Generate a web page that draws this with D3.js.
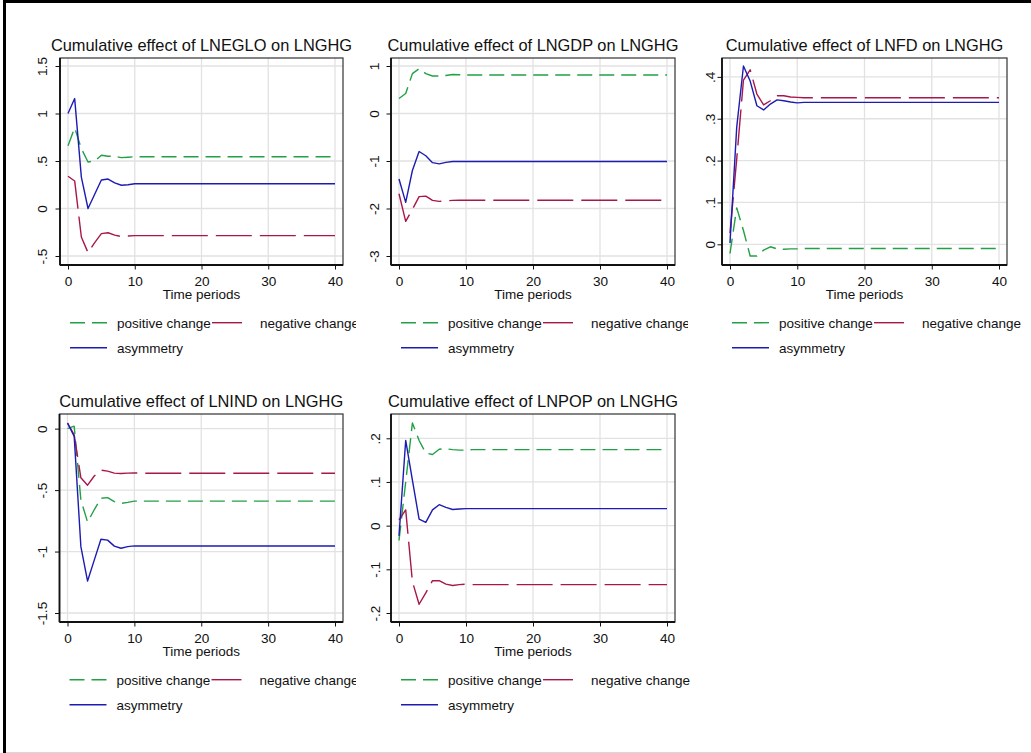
<!DOCTYPE html>
<html><head><meta charset="utf-8">
<script src="https://cdn.jsdelivr.net/npm/d3@7"></script>
<style>
body{margin:0;background:#fff}
svg{display:block}
text{font-family:"Liberation Sans",Arial,Helvetica,sans-serif;fill:#111}
</style>
</head><body>
<svg id="c" width="1031" height="753"></svg>
<script>
// ---------------- DATA ----------------
const periods = [0,1,2,3,4,5,6,7,8,9,10,11,12,13,14,15,16,17,18,19,20,21,22,23,24,25,26,27,28,29,30,31,32,33,34,35,36,37,38,39,40];
const xTicks = [0,10,20,30,40];
const seriesNames = ["positive change","negative change","asymmetry"];
const titles = [
  "Cumulative effect of LNEGLO on LNGHG",
  "Cumulative effect of LNGDP on LNGHG",
  "Cumulative effect of LNFD on LNGHG",
  "Cumulative effect of LNIND on LNGHG",
  "Cumulative effect of LNPOP on LNGHG"
];

// LNEGLO
const egloPos = [0.66,0.85,0.63,0.49,0.50,0.56,0.55,0.55,0.535,0.54,0.545,
  0.545,0.545,0.545,0.545,0.545,0.545,0.545,0.545,0.545,0.545,
  0.545,0.545,0.545,0.545,0.545,0.545,0.545,0.545,0.545,0.545,
  0.545,0.545,0.545,0.545,0.545,0.545,0.545,0.545,0.545,0.545];
const egloNeg = [0.34,0.29,-0.30,-0.465,-0.36,-0.265,-0.255,-0.28,-0.295,-0.29,-0.285,
  -0.285,-0.285,-0.285,-0.285,-0.285,-0.285,-0.285,-0.285,-0.285,-0.285,
  -0.285,-0.285,-0.285,-0.285,-0.285,-0.285,-0.285,-0.285,-0.285,-0.285,
  -0.285,-0.285,-0.285,-0.285,-0.285,-0.285,-0.285,-0.285,-0.285,-0.285];
const egloAsym = [1.0,1.157,0.33,0.0,0.15,0.30,0.31,0.27,0.245,0.25,0.26,
  0.26,0.26,0.26,0.26,0.26,0.26,0.26,0.26,0.26,0.26,
  0.26,0.26,0.26,0.26,0.26,0.26,0.26,0.26,0.26,0.26,
  0.26,0.26,0.26,0.26,0.26,0.26,0.26,0.26,0.26,0.26];
const egloTicks = [-0.5,0,0.5,1,1.5];
const egloLabels = ["-.5","0",".5","1","1.5"];

// LNGDP
const gdpPos = [0.315,0.42,0.84,0.944,0.84,0.79,0.79,0.80,0.82,0.815,0.81,
  0.81,0.81,0.81,0.81,0.81,0.81,0.81,0.81,0.81,0.81,
  0.81,0.81,0.81,0.81,0.81,0.81,0.81,0.81,0.81,0.81,
  0.81,0.81,0.81,0.81,0.81,0.81,0.81,0.81,0.81,0.81];
const gdpNeg = [-1.69,-2.27,-2.02,-1.75,-1.74,-1.83,-1.85,-1.84,-1.83,-1.825,-1.825,
  -1.825,-1.825,-1.825,-1.825,-1.825,-1.825,-1.825,-1.825,-1.825,-1.825,
  -1.825,-1.825,-1.825,-1.825,-1.825,-1.825,-1.825,-1.825,-1.825,-1.825,
  -1.825,-1.825,-1.825,-1.825,-1.825,-1.825,-1.825,-1.825,-1.825,-1.825];
const gdpAsym = [-1.38,-1.87,-1.20,-0.80,-0.89,-1.035,-1.06,-1.03,-1.01,-1.01,-1.01,
  -1.01,-1.01,-1.01,-1.01,-1.01,-1.01,-1.01,-1.01,-1.01,-1.01,
  -1.01,-1.01,-1.01,-1.01,-1.01,-1.01,-1.01,-1.01,-1.01,-1.01,
  -1.01,-1.01,-1.01,-1.01,-1.01,-1.01,-1.01,-1.01,-1.01,-1.01];
const gdpTicks = [-3,-2,-1,0,1];
const gdpLabels = ["-3","-2","-1","0","1"];

// LNFD
const fdPos = [-0.022,0.087,0.033,-0.028,-0.028,-0.014,-0.006,-0.011,-0.012,-0.011,-0.011,
  -0.01,-0.01,-0.01,-0.01,-0.01,-0.01,-0.01,-0.01,-0.01,-0.01,
  -0.01,-0.01,-0.01,-0.01,-0.01,-0.01,-0.01,-0.01,-0.01,-0.01,
  -0.01,-0.01,-0.01,-0.01,-0.01,-0.01,-0.01,-0.01,-0.01,-0.01];
const fdNeg = [0.027,0.204,0.392,0.417,0.359,0.333,0.343,0.355,0.355,0.352,0.351,
  0.35,0.35,0.35,0.35,0.35,0.35,0.35,0.35,0.35,0.35,
  0.35,0.35,0.35,0.35,0.35,0.35,0.35,0.35,0.35,0.35,
  0.35,0.35,0.35,0.35,0.35,0.35,0.35,0.35,0.35,0.35];
const fdAsym = [0.003,0.28,0.426,0.39,0.331,0.321,0.335,0.345,0.343,0.34,0.338,
  0.339,0.339,0.339,0.339,0.339,0.339,0.339,0.339,0.339,0.339,
  0.339,0.339,0.339,0.339,0.339,0.339,0.339,0.339,0.339,0.339,
  0.339,0.339,0.339,0.339,0.339,0.339,0.339,0.339,0.339,0.339];
const fdTicks = [0,0.1,0.2,0.3,0.4];
const fdLabels = ["0",".1",".2",".3",".4"];

// LNIND
const indPos = [0.0,0.02,-0.58,-0.76,-0.66,-0.567,-0.561,-0.594,-0.608,-0.60,-0.59,
  -0.59,-0.59,-0.59,-0.59,-0.59,-0.59,-0.59,-0.59,-0.59,-0.59,
  -0.59,-0.59,-0.59,-0.59,-0.59,-0.59,-0.59,-0.59,-0.59,-0.59,
  -0.59,-0.59,-0.59,-0.59,-0.59,-0.59,-0.59,-0.59,-0.59,-0.59];
const indNeg = [0.046,-0.05,-0.40,-0.46,-0.385,-0.338,-0.346,-0.362,-0.365,-0.362,-0.36,
  -0.363,-0.363,-0.363,-0.363,-0.363,-0.363,-0.363,-0.363,-0.363,-0.363,
  -0.363,-0.363,-0.363,-0.363,-0.363,-0.363,-0.363,-0.363,-0.363,-0.363,
  -0.363,-0.363,-0.363,-0.363,-0.363,-0.363,-0.363,-0.363,-0.363,-0.363];
const indAsym = [0.046,-0.063,-0.96,-1.24,-1.07,-0.90,-0.907,-0.956,-0.973,-0.96,-0.954,
  -0.955,-0.955,-0.955,-0.955,-0.955,-0.955,-0.955,-0.955,-0.955,-0.955,
  -0.955,-0.955,-0.955,-0.955,-0.955,-0.955,-0.955,-0.955,-0.955,-0.955,
  -0.955,-0.955,-0.955,-0.955,-0.955,-0.955,-0.955,-0.955,-0.955,-0.955];
const indTicks = [-1.5,-1,-0.5,0];
const indLabels = ["-1.5","-1","-.5","0"];

// LNPOP
const popPos = [-0.034,0.10,0.235,0.195,0.166,0.163,0.175,0.176,0.174,0.173,0.173,
  0.174,0.174,0.174,0.174,0.174,0.174,0.174,0.174,0.174,0.174,
  0.174,0.174,0.174,0.174,0.174,0.174,0.174,0.174,0.174,0.174,
  0.174,0.174,0.174,0.174,0.174,0.174,0.174,0.174,0.174,0.174];
const popNeg = [0.013,0.036,-0.128,-0.18,-0.154,-0.126,-0.126,-0.134,-0.137,-0.135,-0.134,
  -0.135,-0.135,-0.135,-0.135,-0.135,-0.135,-0.135,-0.135,-0.135,-0.135,
  -0.135,-0.135,-0.135,-0.135,-0.135,-0.135,-0.135,-0.135,-0.135,-0.135,
  -0.135,-0.135,-0.135,-0.135,-0.135,-0.135,-0.135,-0.135,-0.135,-0.135];
const popAsym = [-0.0235,0.195,0.104,0.015,0.0076,0.036,0.048,0.042,0.037,0.038,0.039,
  0.039,0.039,0.039,0.039,0.039,0.039,0.039,0.039,0.039,0.039,
  0.039,0.039,0.039,0.039,0.039,0.039,0.039,0.039,0.039,0.039,
  0.039,0.039,0.039,0.039,0.039,0.039,0.039,0.039,0.039,0.039];
const popTicks = [-0.2,-0.1,0,0.1,0.2];
const popLabels = ["-.2","-.1","0",".1",".2"];

// -------------- LAYOUT / STYLE --------------
const panels = [
  {title:titles[0], series:[egloPos,egloNeg,egloAsym], ticks:egloTicks, labels:egloLabels},
  {title:titles[1], series:[gdpPos,gdpNeg,gdpAsym], ticks:gdpTicks, labels:gdpLabels},
  {title:titles[2], series:[fdPos,fdNeg,fdAsym], ticks:fdTicks, labels:fdLabels},
  {title:titles[3], series:[indPos,indNeg,indAsym], ticks:indTicks, labels:indLabels},
  {title:titles[4], series:[popPos,popNeg,popAsym], ticks:popTicks, labels:popLabels}
];
const layout = [
  {cell:[6,356,4,372],   fx:[60,343],   fy:[58,265],  yr:[256,66],  lab:18.3},
  {cell:[356,688,4,372], fx:[391,675],  fy:[58,265],  yr:[256,66],  lab:16.5},
  {cell:[688,1031,4,372],fx:[722,1007], fy:[58,265],  yr:[256,66],  lab:11.6},
  {cell:[6,356,372,751], fx:[59.5,343], fy:[414,622], yr:[613,423], lab:17.6},
  {cell:[356,688,372,751],fx:[391,675], fy:[414,622], yr:[613,423], lab:15.7}
];
const styles = [
  {color:"#21a046", dash:"15,7"},
  {color:"#a8174b", dash:"36,8"},
  {color:"#1c1cb2", dash:null}
];

const svg = d3.select("#c");
svg.append("rect").attr("width",1031).attr("height",753).attr("fill","#fff");

panels.forEach((p,i)=>{
  const L = layout[i];
  const g = svg.append("g");
  g.append("rect").attr("x",L.cell[0]).attr("y",L.cell[2])
    .attr("width",L.cell[1]-L.cell[0]).attr("height",L.cell[3]-L.cell[2]).attr("fill","#fff");

  const x = d3.scaleLinear().domain([0,40]).range([L.fx[0]+8, L.fx[1]-8]);
  const allVals = p.series.flat().concat(p.ticks);
  const y = d3.scaleLinear().domain([d3.min(allVals), d3.max(allVals)]).range(L.yr);

  g.selectAll(null).data(xTicks).enter().append("line")
    .attr("x1",d=>x(d)).attr("x2",d=>x(d)).attr("y1",L.fy[0]).attr("y2",L.fy[1])
    .attr("stroke","#e2e2e2").attr("stroke-width",1.3);
  g.selectAll(null).data(p.ticks).enter().append("line")
    .attr("y1",d=>y(d)).attr("y2",d=>y(d)).attr("x1",L.fx[0]).attr("x2",L.fx[1])
    .attr("stroke","#e2e2e2").attr("stroke-width",1.3);

  g.append("rect").attr("x",L.fx[0]).attr("y",L.fy[0])
    .attr("width",L.fx[1]-L.fx[0]).attr("height",L.fy[1]-L.fy[0])
    .attr("fill","none").attr("stroke","#333").attr("stroke-width",1.2);

  const xAxis = d3.axisBottom(x).tickValues(xTicks).tickSize(4.5).tickPadding(4);
  const ax = g.append("g").attr("transform",`translate(0,${L.fy[1]})`).call(xAxis);
  ax.select(".domain").attr("d",`M${L.fx[0]},0H${L.fx[1]}`).attr("stroke","#111").attr("stroke-width",1.8);
  ax.selectAll(".tick line").attr("stroke","#111").attr("stroke-width",1);
  ax.selectAll(".tick text").attr("font-size","13.6px").attr("fill","#111")
    .attr("font-family","Liberation Sans, Arial, sans-serif").attr("dy",null).attr("y",21);

  const yAxis = d3.axisLeft(y).tickValues(p.ticks).tickSize(4.5).tickFormat((d,k)=>p.labels[k]);
  const ay = g.append("g").attr("transform",`translate(${L.fx[0]},0)`).call(yAxis);
  ay.select(".domain").attr("d",`M0,${L.fy[0]}V${L.fy[1]}`).attr("stroke","#111").attr("stroke-width",1.8);
  ay.selectAll(".tick line").attr("stroke","#111").attr("stroke-width",1);
  ay.selectAll(".tick text").attr("font-size","13.6px").attr("fill","#111")
    .attr("font-family","Liberation Sans, Arial, sans-serif")
    .attr("x",null).attr("dy","0.36em").attr("text-anchor","middle")
    .attr("transform",`translate(${-L.lab},0) rotate(-90)`);

  const line = d3.line().x((d,k)=>x(periods[k])).y(d=>y(d));
  p.series.forEach((s,k)=>{
    g.append("path").datum(s).attr("d",line).attr("fill","none")
      .attr("stroke",styles[k].color).attr("stroke-width",1.4)
      .attr("stroke-dasharray",styles[k].dash)
      .attr("stroke-linejoin","round");
  });

  const cx = (L.fx[0]+L.fx[1])/2;
  g.append("text").attr("x",cx).attr("y",L.fy[0]-7.5).attr("text-anchor","middle")
    .attr("font-size","16.4px").text(p.title);
  g.append("text").attr("x",cx).attr("y",L.fy[1]+33.5).attr("text-anchor","middle")
    .attr("font-size","13.5px").text("Time periods");

  const legendItems = [
    {k:0, lx:10, tx:57, row:0},
    {k:1, lx:152, tx:200, row:0, len:30},
    {k:2, lx:10, tx:57, row:1}
  ];
  legendItems.forEach(it=>{
    const ly = L.fy[1] + 57.7 + it.row*25;
    const len = it.len || 37;
    g.append("line").attr("x1",L.fx[0]+it.lx).attr("x2",L.fx[0]+it.lx+len)
      .attr("y1",ly).attr("y2",ly).attr("stroke",styles[it.k].color)
      .attr("stroke-width",1.4).attr("stroke-dasharray",styles[it.k].dash);
    g.append("text").attr("x",L.fx[0]+it.tx).attr("y",ly+4.8)
      .attr("font-size","13.5px").text(seriesNames[it.k]);
  });
});

svg.append("line").attr("x1",3).attr("x2",1031).attr("y1",1.5).attr("y2",1.5).attr("stroke","#000").attr("stroke-width",3);
svg.append("line").attr("x1",4.5).attr("x2",4.5).attr("y1",0).attr("y2",753).attr("stroke","#000").attr("stroke-width",3);
svg.append("line").attr("x1",6).attr("x2",1031).attr("y1",752.5).attr("y2",752.5).attr("stroke","#d8d8d8").attr("stroke-width",1);
</script>
</body></html>
